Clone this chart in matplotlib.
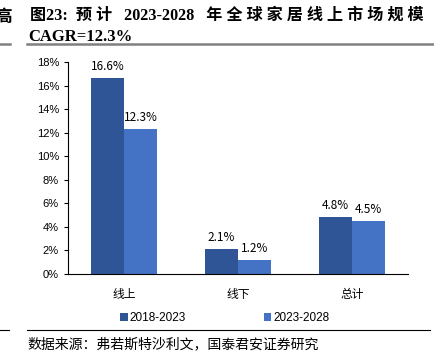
import matplotlib.pyplot as plt

plt.rcParams['font.family'] = ['Liberation Sans', 'Noto Sans CJK SC', 'DejaVu Sans']

categories = ['线上', '线下', '总计']
series_names = ['2018-2023', '2023-2028']
v_2018_2023 = [16.6, 2.1, 4.8]
v_2023_2028 = [12.3, 1.2, 4.5]
colors = ['#2F5597', '#4472C4']

fig = plt.figure(figsize=(4.34, 3.64), dpi=100)
ax = fig.add_axes([0.1567, 0.2473, 0.7833, 0.5824])

x = range(len(categories))
w = 0.29
b1 = ax.bar([i - w / 2 for i in x], v_2018_2023, w, color=colors[0], label=series_names[0])
b2 = ax.bar([i + w / 2 for i in x], v_2023_2028, w, color=colors[1], label=series_names[1])

for bars, vals in ((b1, v_2018_2023), (b2, v_2023_2028)):
    for r, v in zip(bars, vals):
        ax.text(r.get_x() + r.get_width() / 2, v + 0.45, f'{v:.1f}%',
                ha='center', va='bottom', fontsize=8.5,
                family=['Noto Sans CJK SC', 'DejaVu Sans'])

ax.set_xlim(-0.49, 2.49)
ax.set_ylim(0, 18)
ax.set_yticks(range(0, 19, 2))
ax.set_yticklabels([f'{t}%' for t in range(0, 19, 2)], fontsize=8)
ax.set_xticks(list(x))
ax.set_xticklabels(categories, fontsize=8.5, family=['Noto Sans CJK SC'])
ax.tick_params(axis='x', length=0, pad=10)
ax.tick_params(axis='y', length=3, direction='out')
ax.spines['top'].set_visible(False)
ax.spines['right'].set_visible(False)

ax.legend(loc='upper center', bbox_to_anchor=(0.462, -0.13), ncol=2, frameon=False,
          fontsize=8.5, handlelength=0.6, handleheight=0.6, columnspacing=6.6,
          handletextpad=0.2)

title_font = ['Liberation Serif', 'Noto Sans CJK SC']
fig.text(0.069, 0.978, '图23:  预 计   2023-2028   年 全 球 家 居 线 上 市 场 规 模',
         fontsize=11.6, weight='bold', family=title_font, va='top')
fig.text(0.066, 0.92, 'CAGR=12.3%', fontsize=12, weight='bold', family=title_font, va='top')
fig.text(-0.012, 0.978, '高', fontsize=12, weight='bold', family=['Noto Sans CJK SC'], va='top')

fig.add_artist(plt.Line2D([0.062, 1.0], [0.879, 0.879], color='#808080', lw=1.8))
fig.add_artist(plt.Line2D([0.0, 0.024], [0.879, 0.879], color='#808080', lw=1.8))
fig.add_artist(plt.Line2D([0.062, 0.99], [0.093, 0.093], color='black', lw=0.8))
fig.add_artist(plt.Line2D([0.0, 0.02], [0.093, 0.093], color='black', lw=0.8))

fig.text(0.064, 0.053, '数据来源：弗若斯特沙利文，国泰君安证券研究', fontsize=10,
         family=['Noto Sans CJK SC'], va='center')

fig.savefig('out.png', dpi=100)
